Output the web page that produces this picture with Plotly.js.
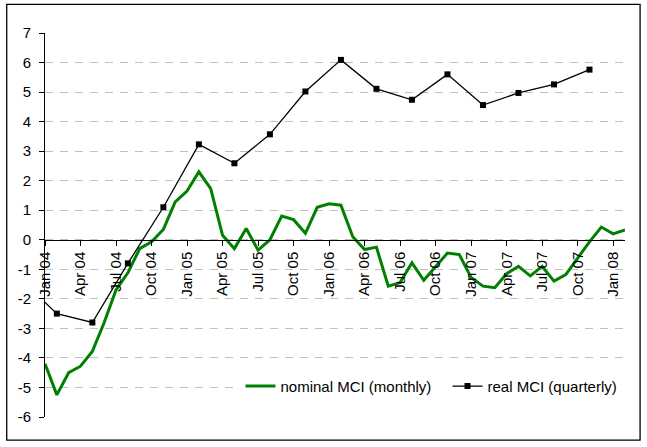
<!DOCTYPE html>
<html>
<head>
<meta charset="utf-8">
<script src="https://cdn.plot.ly/plotly-3.0.1.min.js"></script>
<style>
html, body { margin: 0; padding: 0; background: #fff; }
#chart { width: 647px; height: 447px; }
</style>
</head>
<body>
<div id="chart"></div>
<script>
// Monthly nominal MCI
const months = [
  '2004-01','2004-02','2004-03','2004-04','2004-05','2004-06','2004-07','2004-08','2004-09','2004-10','2004-11','2004-12',
  '2005-01','2005-02','2005-03','2005-04','2005-05','2005-06','2005-07','2005-08','2005-09','2005-10','2005-11','2005-12',
  '2006-01','2006-02','2006-03','2006-04','2006-05','2006-06','2006-07','2006-08','2006-09','2006-10','2006-11','2006-12',
  '2007-01','2007-02','2007-03','2007-04','2007-05','2007-06','2007-07','2007-08','2007-09','2007-10','2007-11','2007-12',
  '2008-01','2008-02'
];
const nominalMCI = [
  -4.2, -5.25, -4.5, -4.28, -3.78, -2.8, -1.7, -1.12, -0.3, -0.07, 0.35, 1.28,
  1.65, 2.3, 1.73, 0.15, -0.3, 0.38, -0.35, 0.0, 0.8, 0.68, 0.22, 1.1,
  1.22, 1.17, 0.1, -0.33, -0.25, -1.57, -1.45, -0.78, -1.37, -0.9, -0.45, -0.5,
  -1.28, -1.57, -1.62, -1.15, -0.9, -1.22, -0.9, -1.4, -1.18, -0.62, -0.07, 0.43,
  0.2, 0.33
];

// Quarterly real MCI (plotted at mid-quarter months)
const quarters = [
  '2003-11','2004-02','2004-05','2004-08','2004-11','2005-02','2005-05','2005-08','2005-11',
  '2006-02','2006-05','2006-08','2006-11','2007-02','2007-05','2007-08','2007-11'
];
const realMCI = [
  -1.36, -2.5, -2.8, -0.8, 1.1, 3.23, 2.59, 3.57, 5.02,
  6.09, 5.11, 4.74, 5.6, 4.56, 4.97, 5.26, 5.76
];

// Axis tick labels
const xTickMonths = ['2004-01','2004-04','2004-07','2004-10','2005-01','2005-04','2005-07','2005-10',
  '2006-01','2006-04','2006-07','2006-10','2007-01','2007-04','2007-07','2007-10','2008-01'];
const xTickLabels = ['Jan 04','Apr 04','Jul 04','Oct 04','Jan 05','Apr 05','Jul 05','Oct 05',
  'Jan 06','Apr 06','Jul 06','Oct 06','Jan 07','Apr 07','Jul 07','Oct 07','Jan 08'];
const yTickVals = [-6,-5,-4,-3,-2,-1,0,1,2,3,4,5,6,7];
const yTickLabels = ['-6','-5','-4','-3','-2','-1','0','1','2','3','4','5','6','7'];

const seriesNames = ['nominal MCI (monthly)', 'real MCI (quarterly)'];

// month string -> month index (Jan 2004 = 0) for an evenly spaced month axis
function mIdx(s) {
  const p = s.split('-');
  return (parseInt(p[0], 10) - 2004) * 12 + (parseInt(p[1], 10) - 1);
}

const FONT = '"Liberation Sans", Arial, sans-serif';
const legendFont = { family: FONT, size: 15, color: '#000000' };

const traces = [
  {
    x: months.map(mIdx), y: nominalMCI, name: seriesNames[0],
    type: 'scatter', mode: 'lines', legend: 'legend',
    line: { color: '#008000', width: 3 }
  },
  {
    x: quarters.map(mIdx), y: realMCI, name: seriesNames[1],
    type: 'scatter', mode: 'lines+markers', legend: 'legend2',
    line: { color: '#000000', width: 1.3 },
    marker: { symbol: 'square', size: 6, color: '#000000' }
  }
];

const layout = {
  width: 647, height: 447,
  margin: { l: 45, r: 22, t: 33, b: 30, pad: 0 },
  paper_bgcolor: '#ffffff', plot_bgcolor: '#ffffff',
  font: { family: FONT, size: 15, color: '#000000' },
  showlegend: true,
  legend: {
    orientation: 'h', x: 0.337, xanchor: 'left', y: 0.08, yanchor: 'middle',
    bgcolor: '#ffffff', borderwidth: 0,
    entrywidth: 168, entrywidthmode: 'pixels',
    font: legendFont
  },
  legend2: {
    orientation: 'h', x: 0.694, xanchor: 'left', y: 0.08, yanchor: 'middle',
    bgcolor: '#ffffff', borderwidth: 0,
    font: legendFont
  },
  xaxis: {
    range: [0, 49], anchor: 'free', position: 6 / 13,
    tickvals: xTickMonths.map(mIdx), ticktext: xTickLabels, tickangle: -90,
    ticks: 'outside', ticklen: 5, tickcolor: '#000000', tickwidth: 1,
    showline: true, linecolor: '#000000', linewidth: 1,
    showgrid: false, zeroline: false, automargin: false,
    tickfont: { family: FONT, size: 15, color: '#000000' }
  },
  yaxis: {
    range: [-6, 7], tickvals: yTickVals, ticktext: yTickLabels,
    ticks: 'outside', ticklen: 5, tickcolor: '#000000', tickwidth: 1,
    ticklabelstandoff: 5,
    showline: true, linecolor: '#000000', linewidth: 1,
    showgrid: true, gridcolor: '#c0c0c0', gridwidth: 1, griddash: '8px,7px',
    zeroline: false, automargin: false,
    tickfont: { family: FONT, size: 15, color: '#000000' }
  },
  shapes: [
    {
      type: 'rect', xref: 'paper', yref: 'paper',
      x0: -0.066, x1: 1.026, y0: -0.06, y1: 1.0747,
      line: { color: '#000000', width: 1.3 }, fillcolor: 'rgba(0,0,0,0)', layer: 'above'
    }
  ]
};

Plotly.newPlot('chart', traces, layout, { staticPlot: true, displayModeBar: false });
</script>
</body>
</html>
